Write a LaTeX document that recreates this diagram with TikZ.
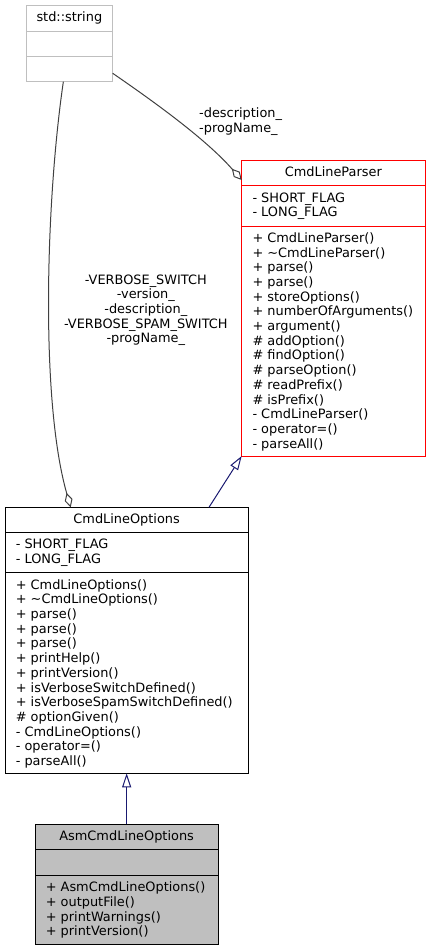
\documentclass[tikz,border=0pt]{standalone}
\usepackage{fontspec}
\setmainfont{DejaVu Sans}
\usetikzlibrary{arrows.meta,calc}
\definecolor{inhblue}{HTML}{191970}
\definecolor{aggrgray}{HTML}{404040}
\definecolor{grey75}{HTML}{BFBFBF}
\tikzset{
  umlbox/.style={draw, line width=1pt, inner sep=0pt, outer sep=0pt, anchor=north west},
  members/.style={anchor=north west, inner sep=0pt, align=left},
  clsname/.style={anchor=base, inner sep=0pt},
  inherit/.style={draw=inhblue, line width=1pt, -{Triangle[open, length=14pt, width=9pt]}},
  aggreg/.style={draw=aggrgray, line width=1pt, -{Diamond[open, length=15pt, width=8pt]}},
}
\begin{document}
\begin{tikzpicture}[x=1pt,y=1pt,yscale=-1,xscale=1,every node/.style={font=\fontsize{12.9}{14.7}\selectfont}]
\useasboundingbox (0,0) rectangle (430,951) ;
% std::string
\node[umlbox, draw=grey75, minimum width=86.7pt, minimum height=76pt] (string) at (26,5.7) {} ;
\draw[grey75, line width=1pt] ($(string.north west)+(0,26)$) -- ($(string.north east)+(0,26)$) ;
\draw[grey75, line width=1pt] ($(string.north west)+(0,51)$) -- ($(string.north east)+(0,51)$) ;
\node[clsname] (stringname) at (69.35,21.7) {std::string} ;
% CmdLineParser
\node[umlbox, draw=red, minimum width=183.3pt, minimum height=295.3pt] (parser) at (241.7,160.7) {} ;
\draw[red, line width=1pt] ($(parser.north west)+(0,25)$) -- ($(parser.north east)+(0,25)$) ;
\draw[red, line width=1pt] ($(parser.north west)+(0,65.3)$) -- ($(parser.north east)+(0,65.3)$) ;
\node[clsname] (parsername) at (333.35,176.7) {CmdLineParser} ;
\node[members] (parserattr) at (252.3,191.6) {\strut - SHORT\_FLAG\\- LONG\_FLAG} ;
\node[members] (parserops) at (252.3,231.9) {\strut + CmdLineParser()\\+ \textasciitilde CmdLineParser()\\+ parse()\\+ parse()\\+ storeOptions()\\+ numberOfArguments()\\+ argument()\\\# addOption()\\\# findOption()\\\# parseOption()\\\# readPrefix()\\\# isPrefix()\\- CmdLineParser()\\- operator=()\\- parseAll()} ;
% CmdLineOptions
\node[umlbox, minimum width=243.3pt, minimum height=266pt] (options) at (5,507.3) {} ;
\draw[line width=1pt] ($(options.north west)+(0,25)$) -- ($(options.north east)+(0,25)$) ;
\draw[line width=1pt] ($(options.north west)+(0,65.4)$) -- ($(options.north east)+(0,65.4)$) ;
\node[clsname] (optionsname) at (126.65,523.3) {CmdLineOptions} ;
\node[members] (optionsattr) at (15.6,538.2) {\strut - SHORT\_FLAG\\- LONG\_FLAG} ;
\node[members] (optionsops) at (15.6,578.6) {\strut + CmdLineOptions()\\+ \textasciitilde CmdLineOptions()\\+ parse()\\+ parse()\\+ parse()\\+ printHelp()\\+ printVersion()\\+ isVerboseSwitchDefined()\\+ isVerboseSpamSwitchDefined()\\\# optionGiven()\\- CmdLineOptions()\\- operator=()\\- parseAll()} ;
% AsmCmdLineOptions
\node[umlbox, fill=grey75, minimum width=183.3pt, minimum height=120pt] (asm) at (35,824.3) {} ;
\draw[line width=1pt] ($(asm.north west)+(0,25)$) -- ($(asm.north east)+(0,25)$) ;
\draw[line width=1pt] ($(asm.north west)+(0,51)$) -- ($(asm.north east)+(0,51)$) ;
\node[clsname] (asmname) at (126.65,840.3) {AsmCmdLineOptions} ;
\node[members] (asmops) at (45.6,881.2) {\strut + AsmCmdLineOptions()\\+ outputFile()\\+ printWarnings()\\+ printVersion()} ;
% relations
\draw[aggreg] ($(string.south east)+(0,-8.4)$) .. controls (150,99) and (205,138) .. ($(parser.north west)+(0,19.3)$) ;
\draw[aggreg] ($(string.south)+(-6,0)$) .. controls (46,200) and (40,400) .. ($(options.north west)+(65.7,0)$) ;
\draw[inherit] ($(options.north west)+(204,0)$) -- (parser.south west) ;
\draw[inherit] (asm.north) -- (options.south) ;
\node[members] (lbldesc) at (199,107) {\strut -description\_\\-progName\_} ;
\node[anchor=north, inner sep=0pt, align=center] (lblverbose) at (145.8,273.6) {\strut -VERBOSE\_SWITCH\\-version\_\\-description\_\\-VERBOSE\_SPAM\_SWITCH\\-progName\_} ;
\end{tikzpicture}
\end{document}
